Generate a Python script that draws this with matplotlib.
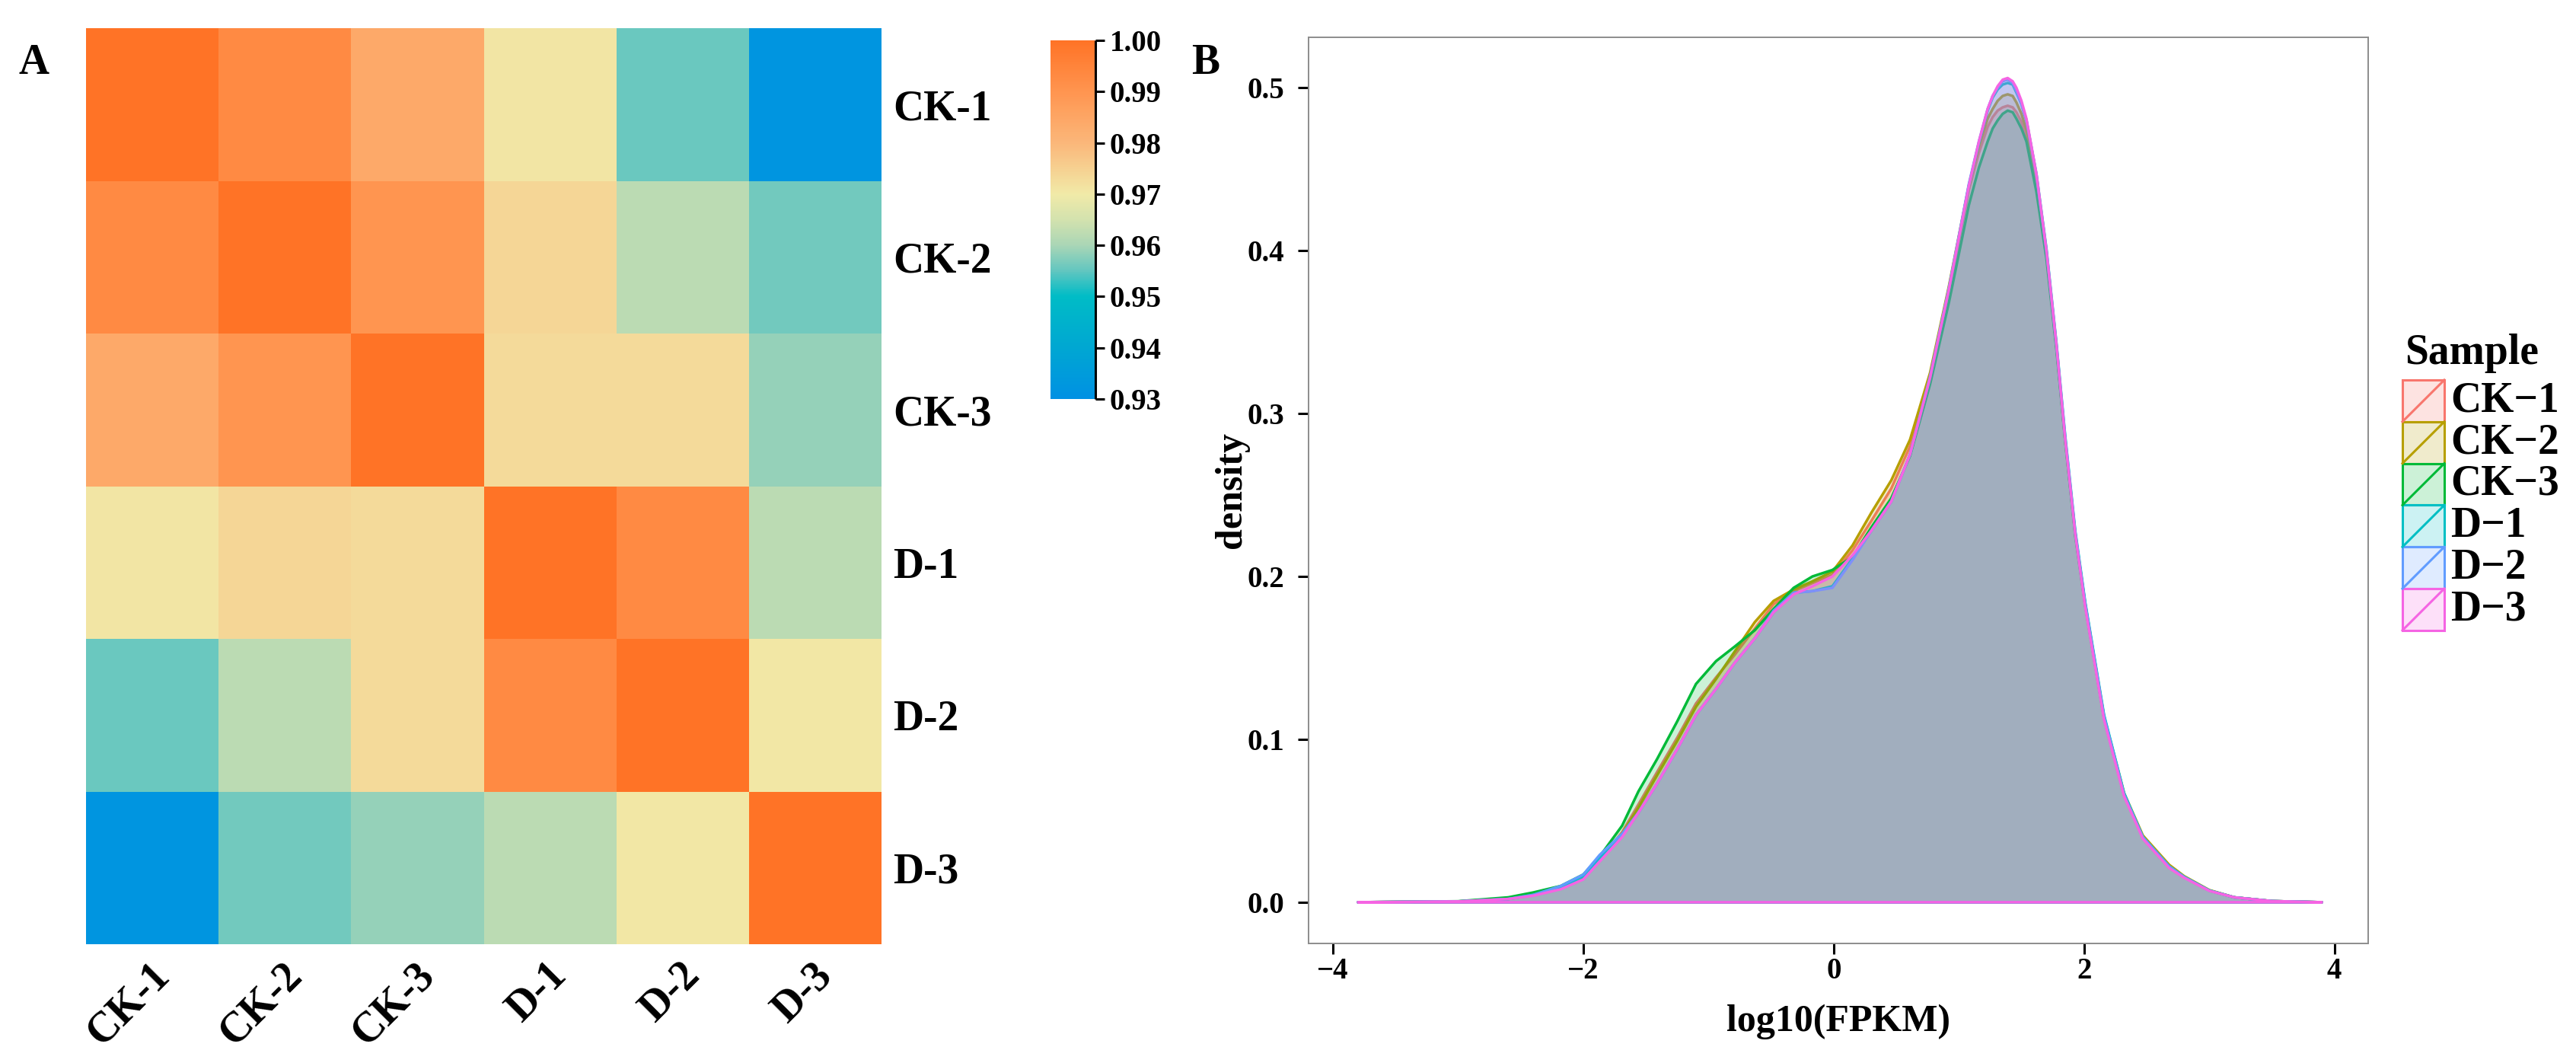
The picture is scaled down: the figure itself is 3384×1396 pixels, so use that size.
import numpy as np
import matplotlib
matplotlib.use("Agg")
import matplotlib.pyplot as plt
from matplotlib.colors import LinearSegmentedColormap, to_rgba
from matplotlib.transforms import ScaledTranslation
from matplotlib.patches import Rectangle
from matplotlib.lines import Line2D

plt.rcParams['font.family'] = ['Liberation Serif', 'DejaVu Serif']
plt.rcParams['font.weight'] = 'bold'
plt.rcParams['axes.unicode_minus'] = True

# ---------------- data ----------------
samples = ['CK-1', 'CK-2', 'CK-3', 'D-1', 'D-2', 'D-3']

corr_ck1 = [1.000, 0.993, 0.984, 0.971, 0.9555, 0.932]
corr_ck2 = [0.993, 1.000, 0.990, 0.974, 0.962, 0.956]
corr_ck3 = [0.984, 0.990, 1.000, 0.973, 0.973, 0.9585]
corr_d1 = [0.971, 0.974, 0.973, 1.000, 0.993, 0.962]
corr_d2 = [0.9555, 0.962, 0.973, 0.993, 1.000, 0.9705]
corr_d3 = [0.932, 0.956, 0.9585, 0.962, 0.9705, 1.000]

cbar_ticks = [0.93, 0.94, 0.95, 0.96, 0.97, 0.98, 0.99, 1.00]
cbar_tick_labels = ['0.93', '0.94', '0.95', '0.96', '0.97', '0.98', '0.99', '1.00']

# density curves, log10(FPKM) grid
log_fpkm = [-3.8, -3.0, -2.6, -2.4, -2.18, -2.0, -1.87, -1.69, -1.56, -1.41, -1.25,
            -1.10, -0.94, -0.79, -0.63, -0.48, -0.32, -0.17, -0.01, 0.15, 0.30,
            0.46, 0.61, 0.77, 0.92, 1.08, 1.16, 1.23, 1.27, 1.31, 1.35, 1.39, 1.43,
            1.46, 1.50, 1.54, 1.62, 1.70, 1.78, 1.85, 1.93, 2.01, 2.16, 2.32, 2.47,
            2.68, 2.8, 3.0, 3.2, 3.5, 3.9]

dens_ck1 = [0, 0.0005, 0.002, 0.0045, 0.0085, 0.015, 0.026, 0.043, 0.060, 0.080, 0.101,
            0.122, 0.138, 0.152, 0.168, 0.183, 0.191, 0.196, 0.201, 0.216, 0.234,
            0.254, 0.280, 0.322, 0.374, 0.437, 0.460, 0.476, 0.482, 0.486, 0.488, 0.489, 0.488,
            0.485, 0.479, 0.470, 0.440, 0.397, 0.340, 0.283, 0.226, 0.182, 0.113, 0.066, 0.040,
            0.022, 0.0155, 0.0072, 0.003, 0.0007, 0]
dens_ck2 = [0, 0.0005, 0.002, 0.0045, 0.0085, 0.015, 0.026, 0.042, 0.058, 0.078, 0.099,
            0.120, 0.137, 0.154, 0.172, 0.185, 0.192, 0.197, 0.203, 0.219, 0.239,
            0.259, 0.284, 0.325, 0.378, 0.440, 0.464, 0.481, 0.487, 0.492, 0.495, 0.496, 0.495,
            0.491, 0.484, 0.474, 0.442, 0.398, 0.341, 0.283, 0.226, 0.183, 0.114, 0.067, 0.041,
            0.023, 0.016, 0.0075, 0.003, 0.0007, 0]
dens_ck3 = [0, 0.0006, 0.003, 0.006, 0.010, 0.017, 0.028, 0.047, 0.068, 0.088, 0.111,
            0.134, 0.148, 0.157, 0.167, 0.180, 0.193, 0.200, 0.204, 0.212, 0.230,
            0.248, 0.274, 0.318, 0.368, 0.428, 0.451, 0.467, 0.475, 0.480, 0.484, 0.486, 0.485,
            0.481, 0.475, 0.467, 0.436, 0.395, 0.339, 0.283, 0.225, 0.182, 0.113, 0.066, 0.040,
            0.022, 0.0155, 0.0072, 0.003, 0.0007, 0]
dens_d1 = [0, 0.0005, 0.002, 0.0045, 0.009, 0.016, 0.027, 0.041, 0.055, 0.073, 0.094,
           0.115, 0.131, 0.147, 0.162, 0.178, 0.190, 0.191, 0.194, 0.211, 0.228,
           0.246, 0.275, 0.322, 0.376, 0.440, 0.466, 0.486, 0.494, 0.499, 0.502, 0.503, 0.502,
           0.497, 0.490, 0.480, 0.447, 0.401, 0.343, 0.286, 0.228, 0.184, 0.115, 0.067, 0.040,
           0.022, 0.0155, 0.0072, 0.003, 0.0007, 0]
dens_d2 = [0, 0.0005, 0.002, 0.0045, 0.010, 0.017, 0.029, 0.042, 0.055, 0.073, 0.094,
           0.115, 0.131, 0.147, 0.162, 0.179, 0.190, 0.191, 0.193, 0.210, 0.228,
           0.246, 0.275, 0.323, 0.377, 0.441, 0.467, 0.487, 0.495, 0.500, 0.504, 0.505, 0.503,
           0.498, 0.490, 0.480, 0.446, 0.400, 0.342, 0.285, 0.227, 0.183, 0.114, 0.066, 0.040,
           0.022, 0.0155, 0.0072, 0.003, 0.0007, 0]
dens_d3 = [0, 0.0005, 0.002, 0.004, 0.008, 0.014, 0.025, 0.040, 0.055, 0.073, 0.094,
           0.115, 0.131, 0.147, 0.162, 0.178, 0.189, 0.194, 0.200, 0.213, 0.228,
           0.246, 0.275, 0.322, 0.376, 0.440, 0.467, 0.487, 0.495, 0.501, 0.505, 0.506, 0.504,
           0.500, 0.492, 0.481, 0.447, 0.400, 0.342, 0.284, 0.226, 0.181, 0.112, 0.065, 0.039,
           0.021, 0.015, 0.007, 0.003, 0.0007, 0]

sample_colors = ['#F8766D', '#B79F00', '#00BA38', '#00BFC4', '#619CFF', '#F564E3']
x_ticks = [-4, -2, 0, 2, 4]
y_ticks = [0.0, 0.1, 0.2, 0.3, 0.4, 0.5]

# ---------------- layout ----------------
W, H = 3384, 1396
DPI = 200
fig = plt.figure(figsize=(W / DPI, H / DPI), dpi=DPI)


def rect(x0, y0, x1, y1):
    return [x0 / W, 1 - y1 / H, (x1 - x0) / W, (y1 - y0) / H]


# ---------------- heatmap ----------------
matrix = np.array([corr_ck1, corr_ck2, corr_ck3, corr_d1, corr_d2, corr_d3])
vmin, vmax = 0.93, 1.00
stops = [(0.930, '#0091E3'), (0.940, '#00A7D2'), (0.950, '#00BCC6'), (0.955, '#62C6C0'),
         (0.960, '#AAD6B6'), (0.965, '#D3E2AE'), (0.970, '#F1EAA8'), (0.980, '#FBB77A'),
         (0.990, '#FF9550'), (1.000, '#FF7326')]
cmap = LinearSegmentedColormap.from_list(
    'corr', [((v - vmin) / (vmax - vmin), c) for v, c in stops])

ax = fig.add_axes(rect(113, 37, 1158, 1240))
mesh = ax.pcolormesh(np.arange(len(samples) + 1), np.arange(len(samples) + 1), matrix,
                     cmap=cmap, vmin=vmin, vmax=vmax, edgecolors='face', linewidth=0)
ax.set_xlim(0, len(samples))
ax.set_ylim(len(samples), 0)
for s in ax.spines.values():
    s.set_visible(False)
ax.yaxis.tick_right()
ax.set_yticks(np.arange(len(samples)) + 0.5)
ax.set_yticklabels(samples, fontsize=20, fontweight='bold')
ax.set_xticks(np.arange(len(samples)) + 0.5)
ax.set_xticklabels(samples, fontsize=20, fontweight='bold', rotation=45,
                   ha='right', va='center', rotation_mode='anchor')
ax.tick_params(axis='y', length=0, pad=5.5)
ax.tick_params(axis='x', length=0, pad=12)
for lbl in ax.get_xticklabels():
    lbl.set_transform(lbl.get_transform() + ScaledTranslation(14 / DPI, 0, fig.dpi_scale_trans))

# colorbar
cax = fig.add_axes(rect(1380, 53, 1439, 524))
cb = fig.colorbar(mesh, cax=cax, ticks=cbar_ticks)
cb.set_ticklabels(cbar_tick_labels)
cb.outline.set_visible(False)
cax.tick_params(length=4.3, width=1.1, color='black', labelsize=14, pad=2.5)
for t in cax.get_yticklabels():
    t.set_fontweight('bold')
cax.plot([1, 1], [0, 1], transform=cax.transAxes, color='black', lw=1.1,
         clip_on=False, solid_capstyle='butt')

# ---------------- density plot ----------------
dax = fig.add_axes(rect(1719, 49, 3111, 1239))
series = [dens_ck1, dens_ck2, dens_ck3, dens_d1, dens_d2, dens_d3]
for i, (yv, col) in enumerate(zip(series, sample_colors)):
    dax.fill(log_fpkm, yv, facecolor=to_rgba(col, 0.2), edgecolor=col, lw=1.25,
             joinstyle='round', zorder=2 + i)
dax.set_xlim(-4.195, 4.27)
dax.set_ylim(-0.0253, 0.531)
dax.set_xticks(x_ticks)
dax.set_xticklabels([str(v).replace('-', '\u2212') for v in x_ticks])
dax.set_yticks(y_ticks)
dax.set_yticklabels([f'{v:.1f}' for v in y_ticks])
for s in dax.spines.values():
    s.set_color('#8C8C8C')
    s.set_linewidth(0.7)
dax.tick_params(length=5, width=1.1, color='black', labelsize=14)
dax.tick_params(axis='x', pad=1.5)
dax.tick_params(axis='y', pad=6.5)
for t in dax.get_xticklabels() + dax.get_yticklabels():
    t.set_fontweight('bold')
dax.set_xlabel('log10(FPKM)', fontsize=18, fontweight='bold', labelpad=9)
dax.set_ylabel('density', fontsize=18, fontweight='bold', labelpad=-1)

# legend (ggplot style keys)
fig.text(3159 / W, 1 - 478 / H, 'Sample', fontsize=20, fontweight='bold', va='baseline')
key_x0, key_w, key_h, key_y0 = 3156, 55, 54.8, 499
for i, (name, col) in enumerate(zip(samples, sample_colors)):
    top = key_y0 + i * key_h
    fig.add_artist(Rectangle((key_x0 / W, 1 - (top + key_h) / H), key_w / W, key_h / H,
                             transform=fig.transFigure, facecolor=to_rgba(col, 0.2),
                             edgecolor=col, lw=1.1))
    fig.add_artist(Line2D([key_x0 / W, (key_x0 + key_w) / W],
                          [1 - (top + key_h) / H, 1 - top / H],
                          transform=fig.transFigure, color=col, lw=1.1))
    fig.text(3219 / W, 1 - (top + key_h / 2) / H, name.replace('-', '\u2212'),
             fontsize=20, fontweight='bold', va='center')

# panel labels
fig.text(24 / W, 1 - 97 / H, 'A', fontsize=20, fontweight='bold', va='baseline')
fig.text(1565 / W, 1 - 97 / H, 'B', fontsize=20, fontweight='bold', va='baseline')

fig.savefig('out.png', dpi=DPI)
